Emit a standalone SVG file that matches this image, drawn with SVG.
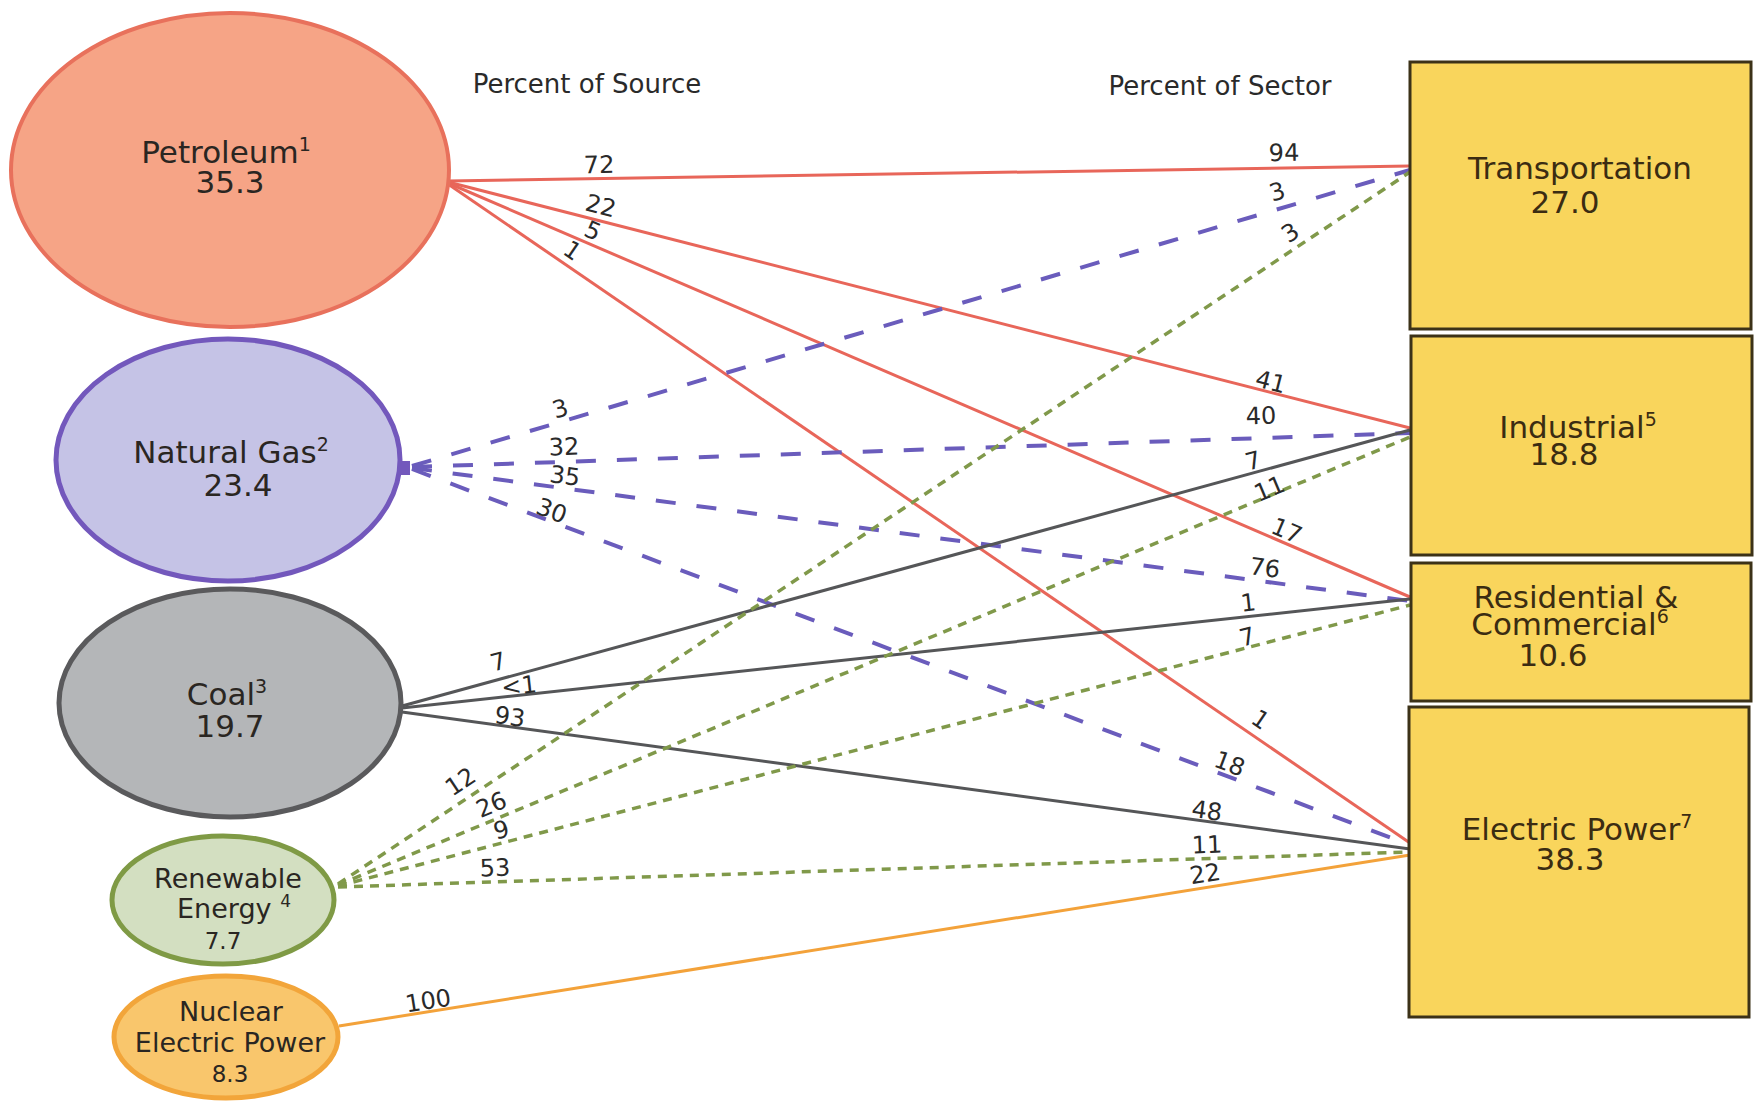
<svg xmlns="http://www.w3.org/2000/svg" width="1758" height="1101" viewBox="0 0 1758 1101">
<style>
text{font-family:"DejaVu Sans","Liberation Sans",sans-serif;fill:#2a2622}
.lbl{font-size:31px;text-anchor:middle}
.sm{font-size:27px;text-anchor:middle}
.num{font-size:23px;text-anchor:middle}
.box{fill:#f9d55c;stroke:#3c3218;stroke-width:3}
.bt{font-size:31px;text-anchor:middle;fill:#3b2c12}
.hdr{font-size:26px;text-anchor:middle;fill:#2a2a2a}
.el{font-size:24px;text-anchor:middle;fill:#2a2a2a}
.pet{stroke:#e8665a;stroke-width:3;fill:none}
.gas{stroke:#6a5cbc;stroke-width:4;fill:none;stroke-dasharray:20 21}
.coal{stroke:#555658;stroke-width:3;fill:none}
.ren{stroke:#80994a;stroke-width:3.5;fill:none;stroke-dasharray:9 7}
.nuc{stroke:#f3a23a;stroke-width:3;fill:none}
</style>
<rect width="1758" height="1101" fill="#ffffff"/>
<text class="hdr" x="587" y="93">Percent of Source</text>
<text class="hdr" x="1220" y="95">Percent of Sector</text>
<g id="connectors">
<line class="pet" x1="448" y1="181" x2="1410" y2="166"/>
<line class="pet" x1="448" y1="182" x2="1410" y2="428"/>
<line class="pet" x1="448" y1="183" x2="1410" y2="597"/>
<line class="pet" x1="448" y1="184" x2="1410" y2="843"/>
<line class="gas" x1="412" y1="466" x2="1410" y2="170"/>
<line class="gas" x1="412" y1="467" x2="1410" y2="433"/>
<line class="gas" x1="412" y1="468" x2="1410" y2="601"/>
<line class="gas" x1="412" y1="469" x2="1410" y2="845"/>
<line class="coal" x1="402" y1="706" x2="1410" y2="430"/>
<line class="coal" x1="402" y1="708" x2="1410" y2="599"/>
<line class="coal" x1="402" y1="712" x2="1410" y2="849"/>
<line class="ren" x1="338" y1="884" x2="1410" y2="172"/>
<line class="ren" x1="338" y1="885" x2="1410" y2="437"/>
<line class="ren" x1="338" y1="886" x2="1410" y2="605"/>
<line class="ren" x1="338" y1="887" x2="1410" y2="852"/>
<line class="nuc" x1="339" y1="1026" x2="1410" y2="855"/>
<g id="edge-labels">
<text class="el" x="599" y="173" transform="rotate(-0.9 599 164)">72</text>
<text class="el" x="601" y="214" transform="rotate(14.3 601 205)">22</text>
<text class="el" x="593" y="239" transform="rotate(23.3 593 230)">5</text>
<text class="el" x="573" y="259" transform="rotate(34.4 573 250)">1</text>
<text class="el" x="560" y="417" transform="rotate(-16.5 560 408)">3</text>
<text class="el" x="564" y="455" transform="rotate(-1.9 564 446)">32</text>
<text class="el" x="565" y="484" transform="rotate(7.6 565 475)">35</text>
<text class="el" x="552" y="519" transform="rotate(20.6 552 510)">30</text>
<text class="el" x="498" y="670" transform="rotate(-15.3 498 661)">7</text>
<text class="el" x="519" y="694" transform="rotate(-6.2 519 685)">&lt;1</text>
<text class="el" x="510" y="725" transform="rotate(7.7 510 716)">93</text>
<text class="el" x="460" y="790" transform="rotate(-33.6 460 781)">12</text>
<text class="el" x="491" y="813" transform="rotate(-22.7 491 804)">26</text>
<text class="el" x="501" y="838" transform="rotate(-14.7 501 829)">9</text>
<text class="el" x="495" y="876" transform="rotate(-1.9 495 867)">53</text>
<text class="el" x="428" y="1009" transform="rotate(-9.1 428 1000)">100</text>
<text class="el" x="1284" y="161" transform="rotate(-0.9 1284 152)">94</text>
<text class="el" x="1277" y="200" transform="rotate(-16.5 1277 191)">3</text>
<text class="el" x="1290" y="241" transform="rotate(-33.6 1290 232)">3</text>
<text class="el" x="1271" y="390" transform="rotate(14.3 1271 381)">41</text>
<text class="el" x="1261" y="424" transform="rotate(-1.9 1261 415)">40</text>
<text class="el" x="1253" y="469" transform="rotate(-15.3 1253 460)">7</text>
<text class="el" x="1269" y="497" transform="rotate(-22.7 1269 488)">11</text>
<text class="el" x="1287" y="539" transform="rotate(23.3 1287 530)">17</text>
<text class="el" x="1265" y="576" transform="rotate(7.6 1265 567)">76</text>
<text class="el" x="1248" y="611" transform="rotate(-6.2 1248 602)">1</text>
<text class="el" x="1247" y="645" transform="rotate(-14.7 1247 636)">7</text>
<text class="el" x="1261" y="728" transform="rotate(34.4 1261 719)">1</text>
<text class="el" x="1230" y="772" transform="rotate(20.6 1230 763)">18</text>
<text class="el" x="1207" y="819" transform="rotate(7.7 1207 810)">48</text>
<text class="el" x="1207" y="853" transform="rotate(-1.9 1207 844)">11</text>
<text class="el" x="1205" y="882" transform="rotate(-9.1 1205 873)">22</text>
</g>
</g>
<g id="petroleum">
<ellipse cx="230" cy="170" rx="219" ry="157" fill="#f6a486" stroke="#e8715c" stroke-width="4"/>
<text class="lbl" x="226" y="163">Petroleum<tspan font-size="19" dy="-12">1</tspan></text>
<text class="lbl" x="230" y="193">35.3</text>
</g>
<g id="natural-gas">
<ellipse cx="228" cy="460" rx="172" ry="121" fill="#c5c3e6" stroke="#7358bc" stroke-width="5"/>
<rect x="398" y="461" width="12" height="14" fill="#7358bc"/>
<text class="lbl" x="231" y="463">Natural Gas<tspan font-size="19" dy="-12">2</tspan></text>
<text class="lbl" x="238" y="496">23.4</text>
</g>
<g id="coal">
<ellipse cx="230" cy="703" rx="171" ry="114" fill="#b4b6b8" stroke="#5a5a5c" stroke-width="5"/>
<text class="lbl" x="227" y="705">Coal<tspan font-size="19" dy="-12">3</tspan></text>
<text class="lbl" x="230" y="737">19.7</text>
</g>
<g id="renewable">
<ellipse cx="223" cy="900" rx="111" ry="64" fill="#d3dfc1" stroke="#7f9a45" stroke-width="5"/>
<text class="sm" x="228" y="888">Renewable</text>
<text class="sm" x="234" y="918">Energy <tspan font-size="17" dy="-11">4</tspan></text>
<text class="num" x="223" y="949">7.7</text>
</g>
<g id="nuclear">
<ellipse cx="226" cy="1037" rx="112" ry="61" fill="#f9c66c" stroke="#f2a53a" stroke-width="5"/>
<text class="sm" x="231" y="1021">Nuclear</text>
<text class="sm" x="230" y="1052">Electric Power</text>
<text class="num" x="230" y="1082">8.3</text>
</g>
<g id="transportation">
<rect class="box" x="1410" y="62" width="341" height="267"/>
<text class="bt" x="1580" y="179">Transportation</text>
<text class="bt" x="1565" y="213">27.0</text>
</g>
<g id="industrial">
<rect class="box" x="1411" y="336" width="341" height="219"/>
<text class="bt" x="1578" y="438">Industrial<tspan font-size="19" dy="-12">5</tspan></text>
<text class="bt" x="1564" y="465">18.8</text>
</g>
<g id="residential-commercial">
<rect class="box" x="1411" y="563" width="340" height="138"/>
<text class="bt" x="1576" y="608">Residential &amp;</text>
<text class="bt" x="1570" y="635">Commercial<tspan font-size="19" dy="-12">6</tspan></text>
<text class="bt" x="1553" y="666">10.6</text>
</g>
<g id="electric-power">
<rect class="box" x="1409" y="707" width="340" height="310"/>
<text class="bt" x="1577" y="840">Electric Power<tspan font-size="19" dy="-12">7</tspan></text>
<text class="bt" x="1570" y="870">38.3</text>
</g>
</svg>
